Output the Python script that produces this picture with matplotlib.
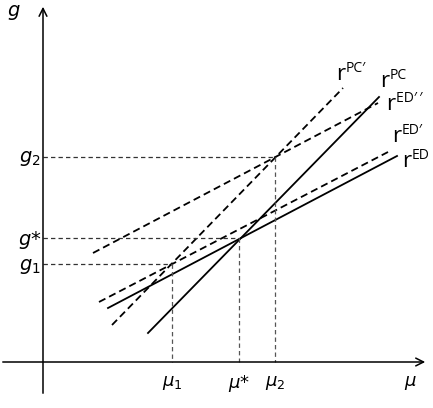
import matplotlib.pyplot as plt

# endpoints of each schedule (x, y in picture units, y grows downward)
r_pc_x = [148, 379]
r_pc_y = [333, 97]
r_ed_x = [108, 397]
r_ed_y = [308, 156]
r_ed1_x = [99, 388]
r_ed1_y = [302, 152]
r_pc1_x = [112, 343]
r_pc1_y = [325, 88]
r_ed2_x = [93, 378]
r_ed2_y = [253, 103]

# equilibrium points
mu_pts = [172, 239, 275]
g_pts = [264, 238, 157]
mu_labels = [r'$\mu_1$', r'$\mu$*', r'$\mu_2$']
g_labels = [r'$g_1$', r'$g$*', r'$g_2$']

# curve labels: (x, baseline y, superscript)
curve_labels = [(336, 80, 'PC\u2032'), (380, 87, 'PC'), (386, 110, 'ED\u2032\u2009\u2032'),
                (392, 142, 'ED\u2032'), (402, 167, 'ED')]

x_axis_y = 362
y_axis_x = 43

fig = plt.figure(figsize=(4.33, 4.08), dpi=100)
ax = fig.add_axes([0, 0, 1, 1])
ax.set_xlim(0, 433)
ax.set_ylim(408, 0)
ax.axis('off')

# axes arrows
ax.annotate('', xy=(428, x_axis_y), xytext=(0, x_axis_y),
            arrowprops=dict(arrowstyle='->', lw=1.1, color='black', mutation_scale=14))
ax.annotate('', xy=(y_axis_x, 4), xytext=(y_axis_x, 396),
            arrowprops=dict(arrowstyle='->', lw=1.1, color='black', mutation_scale=14))

dash = (0, (4, 2.3))
ax.plot(r_pc_x, r_pc_y, color='black', lw=1.3)
ax.plot(r_ed_x, r_ed_y, color='black', lw=1.3)
ax.plot(r_ed1_x, r_ed1_y, color='black', lw=1.3, linestyle=dash)
ax.plot(r_pc1_x, r_pc1_y, color='black', lw=1.3, linestyle=dash)
ax.plot(r_ed2_x, r_ed2_y, color='black', lw=1.3, linestyle=dash)

# guide lines
for mx, gy in zip(mu_pts, g_pts):
    ax.plot([y_axis_x, mx], [gy, gy], color='#333333', lw=0.9, linestyle=(0, (3.5, 2.5)))
    ax.plot([mx, mx], [gy, x_axis_y], color='#555555', lw=0.9, linestyle=(0, (3.5, 2.5)))

for mx, lab in zip(mu_pts, mu_labels):
    ax.text(mx, 383, lab, fontsize=13, ha='center', va='center')
for gy, lab in zip(g_pts, g_labels):
    ax.text(30, gy + 2, lab, fontsize=14, ha='center', va='center')

ax.text(410, 383, r'$\mu$', fontsize=13, ha='center', va='center')
ax.text(14, 12, r'$g$', fontsize=14, ha='center', va='center')

for x, y, sup in curve_labels:
    ax.text(x, y, 'r', fontsize=16, ha='left', va='baseline', family='Open Sans')
    ax.text(x + 10, y - 8, sup, fontsize=10, ha='left', va='baseline', family='Open Sans')

fig.savefig('out.png', dpi=100)
